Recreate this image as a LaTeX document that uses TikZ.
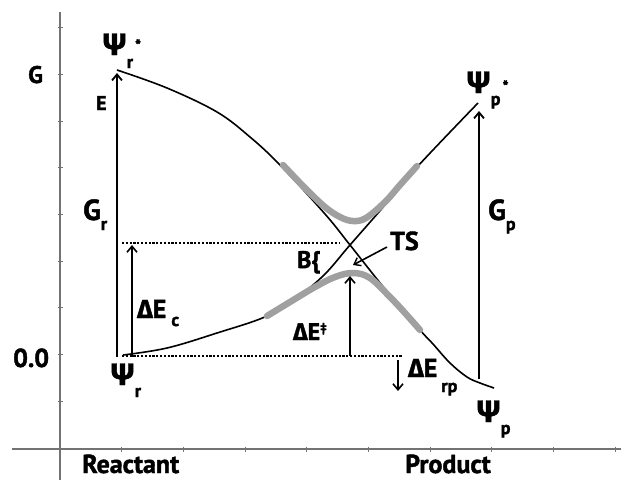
\documentclass[tikz,border=0pt]{standalone}
\usepackage{fontspec}
\setmainfont{PT Sans}[BoldFeatures={FakeBold=1.6}]
\newfontfamily\gr{Fira Sans}[BoldFeatures={FakeBold=1.4}]
\usetikzlibrary{arrows.meta}
\definecolor{axisgray}{RGB}{115,115,115}
\definecolor{adiab}{RGB}{160,160,160}
\newcommand{\fs}[1]{\fontsize{#1}{#1}\selectfont}
\begin{document}
\begin{tikzpicture}[x=1pt,y=-1pt,line join=round,
  axisline/.style={draw=axisgray,line width=1.1pt},
  diab/.style={draw=black,line width=1.6pt},
  adia/.style={draw=adiab,line width=6.5pt,line cap=round},
  bigarrow/.style={draw=black,line width=2.8pt,-{Straight Barb[length=6pt,width=10pt,line width=1.8pt]}},
  midarrow/.style={draw=black,line width=2.1pt,-{Straight Barb[length=6pt,width=10pt,line width=1.6pt]}},
  dotline/.style={draw=black,line width=1.8pt,dash pattern=on 2.2pt off 1.6pt},
  lab/.style={anchor=base west,inner sep=0pt,font=\bfseries}]
\useasboundingbox (0,0) rectangle (621,480);
% axes
\coordinate (ytop) at (60,12); \coordinate (ybot) at (60,480);
\coordinate (xl) at (12,449); \coordinate (xr) at (621,449);
\draw[axisline] (ytop) -- (ybot);
\draw[axisline] (xl) -- (xr);
\foreach \y in {27.7,74.4,121.1,167.8,214.5,261.2,307.9,354.6,401.3}
  \draw[axisline] (57.5,\y) -- (63,\y);
\foreach \x in {121.7,183.4,245.1,306.8,368.5,430.2,491.9,553.6,615.3}
  \draw[axisline] (\x,446.5) -- (\x,451.5);
% diabatic curves
\draw[diab] plot[smooth,tension=0.6] coordinates {(117,70) (167,88) (217,112) (250,137) (280,165) (325,214) (350,245) (385,289) (420,330) (433,344) (450,363) (467,377) (480,383) (494,388)};
\draw[diab] plot[smooth,tension=0.6] coordinates {(123,355) (167,348) (217,333) (267,316) (300,295) (325,274) (350,245) (385,205) (418,166) (478,103)};
% adiabatic (gray)
\draw[adia] plot[smooth,tension=0.6] coordinates {(283,165) (305,188) (325,207) (340,217) (353,221) (366,218) (385,202) (400,185) (417,166)};
\draw[adia] plot[smooth,tension=0.6] coordinates {(267,316) (290,302) (315,287) (335,277) (353,273) (370,278) (390,297) (405,313) (420,330)};
% dotted levels
\coordinate (d1a) at (122,243); \coordinate (d1b) at (339,243);
\coordinate (d0a) at (122,356); \coordinate (d0b) at (402,356);
\draw[dotline] (d1a) -- (d1b);
\draw[dotline] (d0a) -- (d0b);
% arrows
\coordinate (Eb) at (117,357); \coordinate (Et) at (117,73);
\draw[bigarrow] (Eb) -- (Et);
\coordinate (Cb) at (132,357); \coordinate (Ct) at (132,245);
\draw[midarrow] (Cb) -- (Ct);
\coordinate (Db) at (350,356); \coordinate (Dt) at (350,276);
\draw[midarrow] (Db) -- (Dt);
\coordinate (Rt) at (398,360); \coordinate (Rb) at (398,391);
\draw[midarrow] (Rt) -- (Rb);
\coordinate (Pb) at (479,379); \coordinate (Pt) at (479,111);
\draw[bigarrow] (Pb) -- (Pt);
% labels
\node[lab,font=\bfseries\fs{24}] (G) at (28,83) {G};
\node[lab,font=\bfseries\fs{26}] (zero) at (13,367) {0.0};
\node[lab,font=\bfseries\fs{26}] (react) at (82,473) {Reactant};
\node[lab,font=\bfseries\fs{26}] (prod) at (405,473) {Product};
\node[lab,font=\bfseries\fs{20}] (E) at (96,110) {E};
\node[lab,font=\bfseries\fs{29}] (Gr) at (83,220) {G\raisebox{-10pt}{\fs{18}r}};
\node[lab,font=\bfseries\fs{29}] (Gp) at (488,220) {G\raisebox{-10pt}{\fs{18}p}};
\node[lab,font=\bfseries\fs{31}] (Prs) at (103,55) {{\gr Ψ}\hspace{1pt}\raisebox{-13pt}{\fs{18}r}\hspace{2pt}\raisebox{4pt}{\fs{16}*}};
\node[lab,font=\bfseries\fs{31}] (Pps) at (467,93) {{\gr Ψ}\hspace{1pt}\raisebox{-12pt}{\fs{18}p}\hspace{2pt}\raisebox{1pt}{\fs{16}*}};
\node[lab,font=\bfseries\fs{31}] (Pr) at (111,385) {{\gr Ψ}\hspace{1pt}\raisebox{-12pt}{\fs{18}r}};
\node[lab,font=\bfseries\fs{31}] (Pp) at (477,422) {{\gr Ψ}\hspace{1pt}\raisebox{-12pt}{\fs{18}p}};
\node[lab,font=\bfseries\fs{26}] (dEc) at (137,318) {{\gr Δ}E\hspace{5pt}\raisebox{-8pt}{\fs{18}c}};
\node[lab,font=\bfseries\fs{24}] (B) at (297,268) {B\{};
\node[lab,font=\bfseries\fs{26}] (TS) at (390,250) {TS};
\node[lab,font=\bfseries\fs{24}] (dEt) at (293,340) {{\gr Δ}E\raisebox{8pt}{\fs{13}‡}};
\node[lab,font=\bfseries\fs{26}] (dErp) at (408,377) {{\gr Δ}E\hspace{4pt}\raisebox{-15pt}{\fs{18}rp}};
\coordinate (tsa) at (387,247); \coordinate (tsb) at (353,265);
\draw[draw=black,line width=1.6pt,-{Straight Barb[length=6pt,width=9pt,line width=1.4pt]}] (tsa) -- (tsb);
\end{tikzpicture}
\end{document}
